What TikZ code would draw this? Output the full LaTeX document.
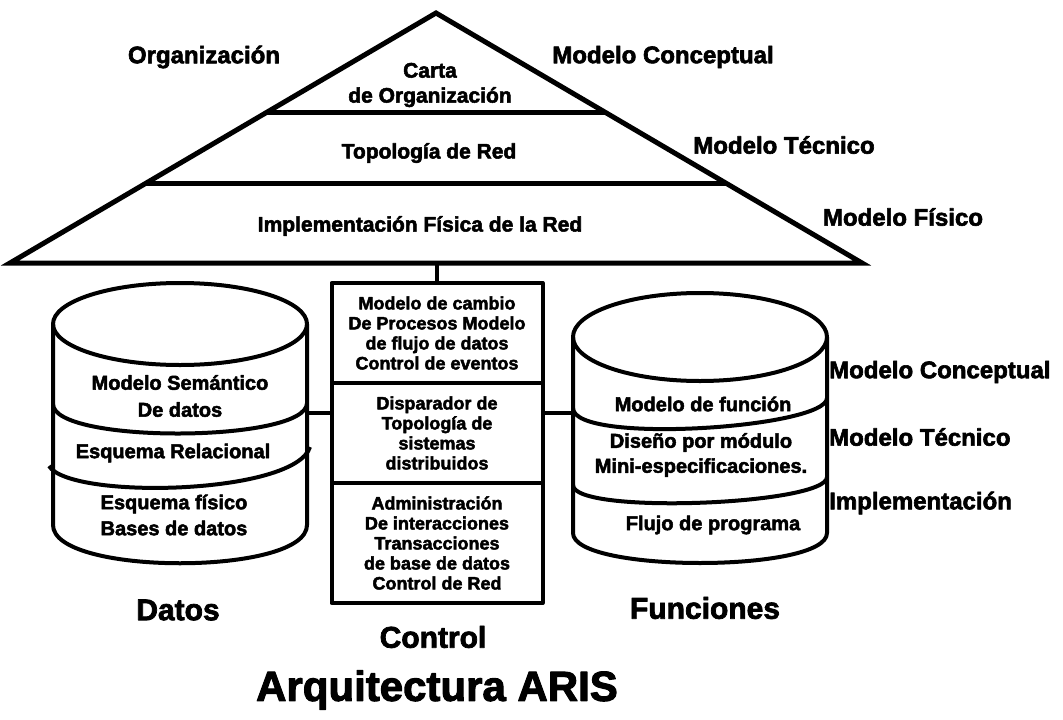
\documentclass[tikz,border=0pt]{standalone}
\usepackage{fontspec}
\setmainfont{Liberation Sans}[BoldFeatures={FakeBold=2.5}]
\usetikzlibrary{calc}

\begin{document}
\begin{tikzpicture}[x=1pt,y=-1pt,line join=round]
        \tikzstyle{lbl}=[font=\fontsize{24}{26}\selectfont\bfseries,inner sep=0pt]
        \tikzstyle{pyr}=[font=\fontsize{21}{25}\selectfont\bfseries,inner sep=0pt,align=center]
        \tikzstyle{cyltxt}=[font=\fontsize{20}{26}\selectfont\bfseries,inner sep=0pt,align=center]
        \tikzstyle{ctl}=[draw,line width=4pt,minimum width=211pt,align=center,inner sep=0pt,font=\fontsize{18}{20}\selectfont\bfseries]
        \tikzstyle{cyl}=[line width=4pt]
        \tikzstyle{big}=[font=\fontsize{30}{32}\selectfont\bfseries,inner sep=0pt]
        \useasboundingbox (0,0) rectangle (1063,720);

        % piramide
        \coordinate (apex) at (436,13);
        \coordinate (bl) at (10,263);
        \coordinate (br) at (862,263);
        \draw[line width=5pt,line join=miter] (apex) -- (br) -- (bl) -- cycle;
        \draw[line width=5pt] ($(apex)!0.4!(bl)$) -- ($(apex)!0.4!(br)$);
        \draw[line width=5pt] ($(apex)!0.68!(bl)$) -- ($(apex)!0.68!(br)$);

        \node[pyr] (carta) at (430,85) {Carta\\de Organización};
        \node[pyr] (topo) at (429,153) {Topología de Red};
        \node[pyr] (impl) at (420,226) {Implementación Física de la Red};

        \node[lbl] (org) at (204,57) {Organización};
        \node[lbl] (pconc) at (663,57) {Modelo Conceptual};
        \node[lbl] (ptec) at (784,145) {Modelo Técnico};
        \node[lbl] (pfis) at (903,217) {Modelo Físico};

        % control
        \node[ctl,minimum height=100pt] (ctl1) at (437,333) {Modelo de cambio\\De Procesos Modelo\\de flujo de datos\\Control de eventos};
        \node[ctl,minimum height=100pt] (ctl2) at (437,433) {Disparador de\\Topología de\\sistemas\\distribuidos};
        \node[ctl,minimum height=120pt] (ctl3) at (437,543) {Administración\\De interacciones\\Transacciones\\de base de datos\\Control de Red};

        \coordinate (base) at (437,263);
        \draw[line width=3.5pt] (base) -- (ctl1.north);

        % datos
        \draw[cyl] (180,324) ellipse [x radius=127, y radius=41];
        \draw[cyl] (53,324) -- (53,525) .. controls (53,576) and (307,576) .. (307,525) -- (307,324);
        \draw[cyl] (53,404) .. controls (53,444) and (307,443) .. (307,403);
        \draw[cyl] (49,466) .. controls (70,500) and (295,495) .. (310,447);

        \node[cyltxt,font=\fontsize{20}{27}\selectfont\bfseries] (sem) at (180,396) {Modelo Semántico\\De datos};
        \node[cyltxt] (rel) at (173,453) {Esquema Relacional};
        \node[cyltxt] (fis) at (174,515) {Esquema físico\\Bases de datos};

        % funciones
        \draw[cyl] (700,337) ellipse [x radius=127, y radius=44];
        \draw[cyl] (573,337) -- (573,533) .. controls (573,573) and (827,573) .. (827,533) -- (827,337);
        \draw[cyl] (573,408) .. controls (573,445) and (827,428) .. (827,398);
        \draw[cyl] (573,485) .. controls (573,515) and (827,505) .. (827,477);

        \node[cyltxt] (func) at (703,404) {Modelo de función};
        \node[cyltxt,font=\fontsize{20}{25}\selectfont\bfseries] (mod) at (701,455) {Diseño por módulo\\Mini-especificaciones.};
        \node[cyltxt] (flujo) at (713,525) {Flujo de programa};

        \node[lbl,anchor=west] (fconc) at (829,372) {Modelo Conceptual};
        \node[lbl,anchor=west] (ftec) at (829,437) {Modelo Técnico};
        \node[lbl,anchor=west] (fimp) at (829,503) {Implementación};

        % conexiones
        \coordinate (datR) at (307,413);
        \coordinate (funL) at (573,413);
        \draw[line width=3.5pt] (datR) -- (datR -| ctl2.west);
        \draw[line width=3.5pt] (ctl2.east |- funL) -- (funL);

        \node[big] (datos) at (178,610) {Datos};
        \node[big] (control) at (433,637) {Control};
        \node[big] (funciones) at (705,608) {Funciones};
        \node[font=\fontsize{42}{44}\selectfont\bfseries,inner sep=0pt] (aris) at (437,690) {Arquitectura ARIS};
\end{tikzpicture}
\end{document}
